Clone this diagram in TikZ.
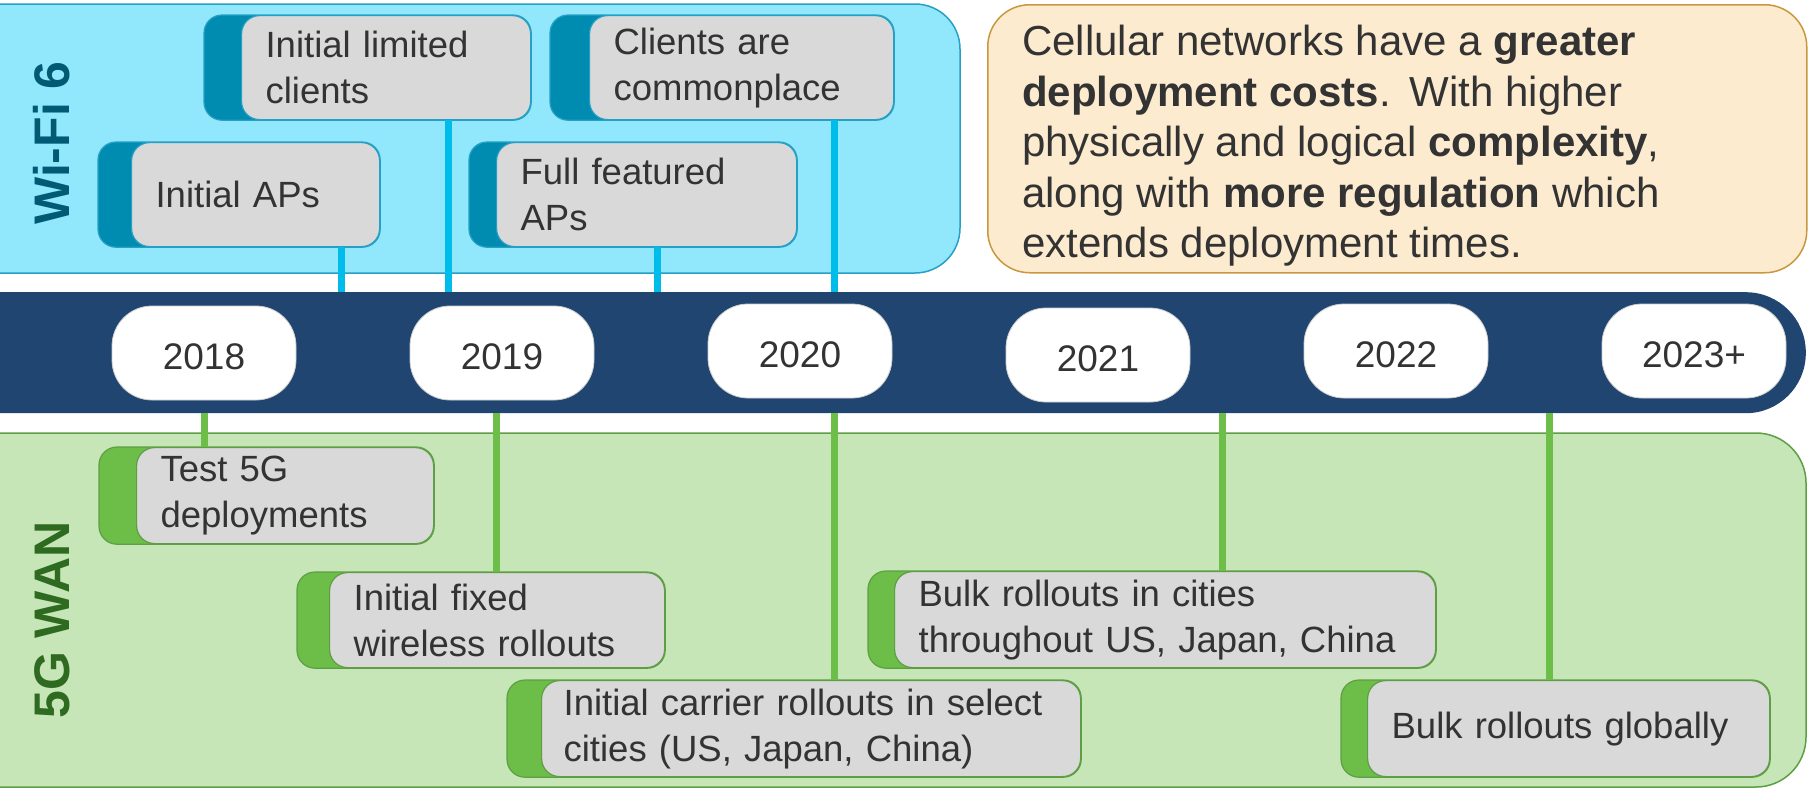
\documentclass[tikz,border=0pt]{standalone}
\usepackage{fontspec}
\setmainfont{Liberation Sans}
\setlength{\parindent}{0pt}
\hyphenpenalty=10000
\exhyphenpenalty=10000

\definecolor{wifipanel}{RGB}{145,231,252}
\definecolor{wifiedge}{RGB}{38,160,196}
\definecolor{wifitab}{RGB}{0,140,176}
\definecolor{wifiline}{RGB}{0,188,235}
\definecolor{wifilab}{RGB}{0,90,116}
\definecolor{greenpanel}{RGB}{198,230,184}
\definecolor{greenedge}{RGB}{94,158,68}
\definecolor{greentab}{RGB}{108,190,72}
\definecolor{greenlab}{RGB}{46,106,32}
\definecolor{boxgray}{RGB}{217,217,217}
\definecolor{bandnavy}{RGB}{31,69,112}
\definecolor{notefill}{RGB}{252,235,207}
\definecolor{noteedge}{RGB}{201,152,60}
\definecolor{txt}{RGB}{51,51,51}

\newcommand\evtfont{\fontsize{36.5}{46}\selectfont}
\newcommand\yrfont{\fontsize{37}{44}\selectfont}
\newcommand\lblfont{\fontsize{50}{56}\selectfont\bfseries}
\newcommand\notefont{\fontsize{42}{50.5}\selectfont}

\pgfdeclarelayer{panels}
\pgfdeclarelayer{tabs}
\pgfsetlayers{panels,tabs,main}

\begin{document}
\begin{tikzpicture}[x=1pt,y=-1pt,
  evt/.style={rectangle, rounded corners=18pt, fill=boxgray, line width=1.2pt,
    inner xsep=24pt, inner ysep=0pt, align=left, anchor=north west,
    font=\evtfont, text=txt},
  wevt/.style={evt, draw=wifiedge},
  gevt/.style={evt, draw=greenedge},
  wtabstyle/.style={fill=wifitab, draw=wifiedge, line width=1.2pt, rounded corners=18pt},
  gtabstyle/.style={fill=greentab, draw=greenedge, line width=1.2pt, rounded corners=18pt},
  wline/.style={draw=wifiline, line width=7pt},
  gline/.style={draw=greentab, line width=7pt},
  year/.style={rectangle, rounded corners=40pt, fill=white, draw=black!20,
    line width=0.8pt, minimum width=184pt, minimum height=94pt, inner sep=0pt,
    text height=33pt, font=\yrfont, text=txt},
  lane/.style={rotate=90, font=\lblfont}
]
\useasboundingbox (0,0) rectangle (1808,788);

% lane panels
\begin{pgfonlayer}{panels}
  \draw[fill=wifipanel, draw=wifiedge, line width=1.5pt, rounded corners=45pt]
    (-80,4) rectangle (960,273);
  \draw[fill=greenpanel, draw=greenedge, line width=1.5pt, rounded corners=50pt]
    (-80,433) rectangle (1806,787);
\end{pgfonlayer}

% note on cellular deployment
\node[rectangle, rounded corners=42pt, fill=notefill, draw=noteedge, line width=1.5pt,
  minimum width=819pt, minimum height=268pt, inner sep=0pt, anchor=north west]
  (note) at (987,4) {};
\node[anchor=west, inner sep=0pt, align=left, font=\notefont, text=txt]
  (notetext) at (1022,146)
  {Cellular networks have a \textbf{greater}\\
   \textbf{deployment costs}.\hspace{0.45em}With higher\\
   physically and logical \textbf{complexity},\\
   along with \textbf{more regulation} which\\
   extends deployment times.};

% lane titles
\node[lane, text=wifilab] (wifititle) at (52,143) {Wi-Fi 6};
\node[lane, text=greenlab] (wantitle) at (52,620) {5G WAN};

% Wi-Fi 6 milestones
\node[wevt, minimum width=248pt, minimum height=104pt, text width=200pt] (ap) at (131,142) {Initial APs};
\node[wevt, minimum width=289pt, minimum height=104pt, text width=241pt] (lim) at (241,15) {Initial limited\\clients};
\node[wevt, minimum width=300pt, minimum height=104pt, text width=252pt] (full) at (496,142) {Full featured\\APs};
\node[wevt, minimum width=304pt, minimum height=104pt, text width=256pt] (cli) at (589,15) {Clients are\\commonplace};

% 5G WAN milestones
\node[gevt, minimum width=297pt, minimum height=96pt, text width=249pt] (test) at (136,447) {Test 5G\\deployments};
\node[gevt, minimum width=335pt, minimum height=95pt, text width=287pt] (fixed) at (329,572) {Initial fixed\\wireless rollouts};
\node[gevt, minimum width=539pt, minimum height=96pt, text width=495pt, inner xsep=22pt] (carrier) at (541,680) {Initial carrier rollouts in select\\cities (US, Japan, China)};
\node[gevt, minimum width=541pt, minimum height=96pt, text width=493pt] (cities) at (894,571) {Bulk rollouts in cities\\throughout US, Japan, China};
\node[gevt, minimum width=402pt, minimum height=96pt, text width=354pt] (glob) at (1367,680) {Bulk rollouts globally};

% coloured tabs behind the milestone boxes
\begin{pgfonlayer}{tabs}
  \draw[wtabstyle] ([xshift=-33pt]ap.south west) rectangle (ap.north east);
  \draw[wtabstyle] ([xshift=-37pt]lim.south west) rectangle (lim.north east);
  \draw[wtabstyle] ([xshift=-27pt]full.south west) rectangle (full.north east);
  \draw[wtabstyle] ([xshift=-39pt]cli.south west) rectangle (cli.north east);
  \draw[gtabstyle] ([xshift=-37pt]test.south west) rectangle (test.north east);
  \draw[gtabstyle] ([xshift=-32pt]fixed.south west) rectangle (fixed.north east);
  \draw[gtabstyle] ([xshift=-34pt]carrier.south west) rectangle (carrier.north east);
  \draw[gtabstyle] ([xshift=-26pt]cities.south west) rectangle (cities.north east);
  \draw[gtabstyle] ([xshift=-26pt]glob.south west) rectangle (glob.north east);
\end{pgfonlayer}

% timeline band
\node[fill=bandnavy, rounded corners=60pt, minimum width=1900pt, minimum height=121pt,
  inner sep=0pt, anchor=north east] (band) at (1806,292) {};

% years
\node[year] (y2018) at (204,353) {2018};
\node[year] (y2019) at (502,353) {2019};
\node[year] (y2020) at (800,351) {2020};
\node[year] (y2021) at (1098,355) {2021};
\node[year] (y2022) at (1396,351) {2022};
\node[year] (y2023) at (1694,351) {2023+};

% connectors to the band
\coordinate (apc) at ([xshift=210pt]ap.south west);
\coordinate (limc) at ([xshift=207pt]lim.south west);
\coordinate (fullc) at ([xshift=161pt]full.south west);
\coordinate (clic) at ([xshift=245pt]cli.south west);
\draw[wline] (apc) -- (apc |- band.north);
\draw[wline] (limc) -- (limc |- band.north);
\draw[wline] (fullc) -- (fullc |- band.north);
\draw[wline] (clic) -- (clic |- band.north);

\coordinate (testc) at ([xshift=68pt]test.north west);
\coordinate (fixedc) at ([xshift=167pt]fixed.north west);
\coordinate (carrierc) at ([xshift=293pt]carrier.north west);
\coordinate (citiesc) at ([xshift=328pt]cities.north west);
\coordinate (globc) at ([xshift=182pt]glob.north west);
\draw[gline] (testc) -- (testc |- band.south);
\draw[gline] (fixedc) -- (fixedc |- band.south);
\draw[gline] (carrierc) -- (carrierc |- band.south);
\draw[gline] (citiesc) -- (citiesc |- band.south);
\draw[gline] (globc) -- (globc |- band.south);
\end{tikzpicture}
\end{document}
